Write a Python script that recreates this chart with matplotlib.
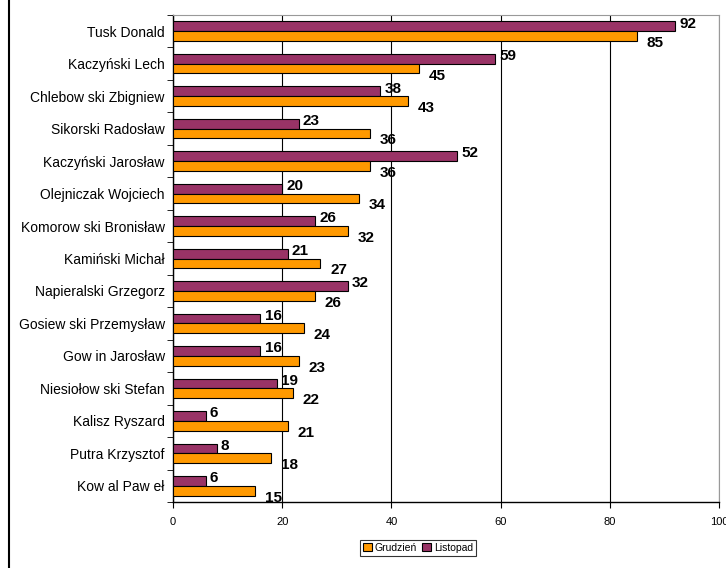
import numpy as np
import matplotlib
matplotlib.use("Agg")
import matplotlib.pyplot as plt
from matplotlib.lines import Line2D

names = ["Tusk Donald", "Kaczyński Lech", "Chlebow ski Zbigniew", "Sikorski Radosław",
         "Kaczyński Jarosław", "Olejniczak Wojciech", "Komorow ski Bronisław", "Kamiński Michał",
         "Napieralski Grzegorz", "Gosiew ski Przemysław", "Gow in Jarosław",
         "Niesiołow ski Stefan", "Kalisz Ryszard", "Putra Krzysztof", "Kow al Paw eł"]
grudzien = [85, 45, 43, 36, 36, 34, 32, 27, 26, 24, 23, 22, 21, 18, 15]
listopad = [92, 59, 38, 23, 52, 20, 26, 21, 32, 16, 16, 19, 6, 8, 6]

plt.rcParams['font.family'] = ['Liberation Sans', 'DejaVu Sans']

fig = plt.figure(figsize=(7.26, 5.68), dpi=100)
ax = fig.add_axes([173 / 726, 1 - 502 / 568, 546 / 726, 487 / 568])

n = len(names)
y = np.arange(n)[::-1].astype(float)
h = 0.3
ax.barh(y + h / 2, listopad, height=h, color="#993366", edgecolor="black", linewidth=0.8,
        label="Listopad", zorder=3)
ax.barh(y - h / 2, grudzien, height=h, color="#FF9900", edgecolor="black", linewidth=0.8,
        label="Grudzień", zorder=3)

# etykiety wartości
for yi, v in zip(y, listopad):
    ax.annotate(str(v), xy=(v, yi + h / 2), xytext=(3, 2), textcoords="offset points",
                ha="left", va="center", fontsize=11, fontweight="bold", zorder=4)
for yi, v in zip(y, grudzien):
    ax.annotate(str(v), xy=(v, yi - h / 2), xytext=(7, -5), textcoords="offset points",
                ha="left", va="center", fontsize=11, fontweight="bold", zorder=4)

ax.set_xlim(0, 100)
ax.set_ylim(-0.5, n - 0.5)
ax.set_xticks([0, 20, 40, 60, 80, 100])
ax.tick_params(axis="x", labelsize=8, direction="out", length=4, pad=7)
ax.grid(axis="x", color="black", linewidth=0.8, zorder=0)

ax.set_yticks(y)
ax.set_yticklabels(names, fontsize=10)
ax.set_yticks(np.arange(n + 1) - 0.5, minor=True)
ax.tick_params(axis="y", which="major", length=0, pad=6)
ax.tick_params(axis="y", which="minor", length=4, direction="out")

for s in ["top", "right"]:
    ax.spines[s].set_color("#999999")
for s in ["left", "bottom"]:
    ax.spines[s].set_color("black")
    ax.spines[s].set_linewidth(1.0)

handles, labels = ax.get_legend_handles_labels()
leg = fig.legend(handles[::-1], labels[::-1], loc="center", bbox_to_anchor=(418 / 726, 1 - 548 / 568),
                 ncol=2, fontsize=7.5, frameon=True, fancybox=False, handlelength=0.8,
                 handleheight=0.8, handletextpad=0.3, columnspacing=0.5, borderpad=0.3)
leg.get_frame().set_edgecolor("black")
leg.get_frame().set_linewidth(0.8)

fig.add_artist(Line2D([9 / 726, 9 / 726], [0, 1], color="black", linewidth=1.5,
                      transform=fig.transFigure))

fig.savefig("out.png", dpi=100)
